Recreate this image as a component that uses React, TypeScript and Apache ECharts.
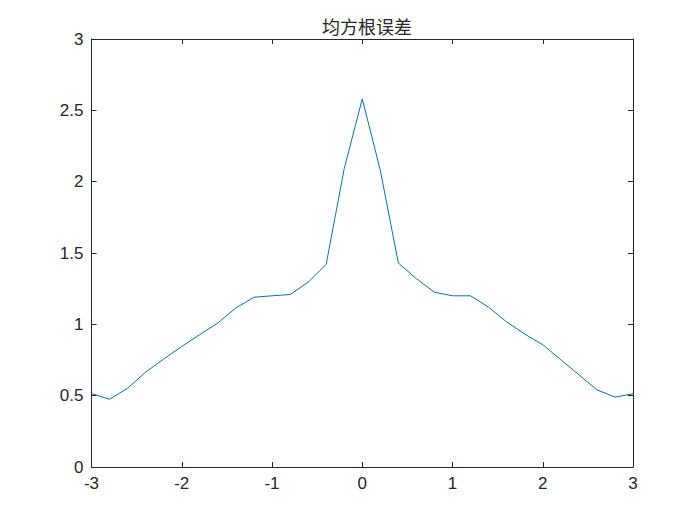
import React, { useEffect, useRef } from "react";
import * as echarts from "echarts";

// x 取样点
const xs = [-3, -2.8, -2.6, -2.4, -2.2, -2, -1.8, -1.6, -1.4, -1.2, -1, -0.8, -0.6, -0.4, -0.2, 0,
  0.2, 0.4, 0.6, 0.8, 1, 1.2, 1.4, 1.6, 1.8, 2, 2.2, 2.4, 2.6, 2.8, 3];
// 均方根误差
const rmse = [0.515, 0.475, 0.552, 0.665, 0.757, 0.845, 0.928, 1.01, 1.115, 1.19, 1.2, 1.209, 1.295, 1.42, 2.09, 2.58,
  2.08, 1.43, 1.32, 1.225, 1.2, 1.2, 1.12, 1.017, 0.932, 0.857, 0.752, 0.647, 0.541, 0.49, 0.513];
const title = "均方根误差";

const textColor = "#262626";
const font = "'Liberation Sans', Arial, sans-serif";

const App = () => {
  const chartRef = useRef(null);

  useEffect(() => {
    const chart = echarts.init(chartRef.current, null, { renderer: "svg" });

    const baseX = {
      type: "value",
      min: -3,
      max: 3,
      interval: 1,
      splitLine: { show: false },
      axisLine: { show: true, onZero: false, lineStyle: { color: textColor, width: 1 } },
      axisTick: { show: true, inside: true, length: 5, lineStyle: { color: textColor } },
    };
    const baseY = {
      type: "value",
      min: 0,
      max: 3,
      interval: 0.5,
      splitLine: { show: false },
      axisLine: { show: true, onZero: false, lineStyle: { color: textColor, width: 1 } },
      axisTick: { show: true, inside: true, length: 5, lineStyle: { color: textColor } },
    };

    chart.setOption({
      animation: false,
      backgroundColor: "#ffffff",
      title: {
        text: title,
        left: 362,
        textAlign: "center",
        top: 12,
        textStyle: {
          fontFamily: "'Noto Sans CJK SC', sans-serif",
          fontSize: 18,
          fontWeight: "normal",
          color: textColor,
        },
      },
      grid: { left: 91.5, right: 67, top: 39, bottom: 58 },
      xAxis: [
        {
          ...baseX,
          position: "bottom",
          axisLabel: { color: textColor, fontFamily: font, fontSize: 17, margin: 8 },
        },
        { ...baseX, position: "top", axisLabel: { show: false } },
      ],
      yAxis: [
        {
          ...baseY,
          position: "left",
          axisLabel: { color: textColor, fontFamily: font, fontSize: 17, margin: 8 },
        },
        { ...baseY, position: "right", axisLabel: { show: false } },
      ],
      series: [
        {
          type: "line",
          data: xs.map((x, i) => [x, rmse[i]]),
          showSymbol: false,
          lineStyle: { color: "#0072BD", width: 1 },
        },
      ],
    });

    return () => {
      chart.dispose();
    };
  }, []);

  return (
    <div
      ref={chartRef}
      style={{ position: "absolute", left: 0, top: 0, width: "700px", height: "525px" }}
    ></div>
  );
};

export default App;
